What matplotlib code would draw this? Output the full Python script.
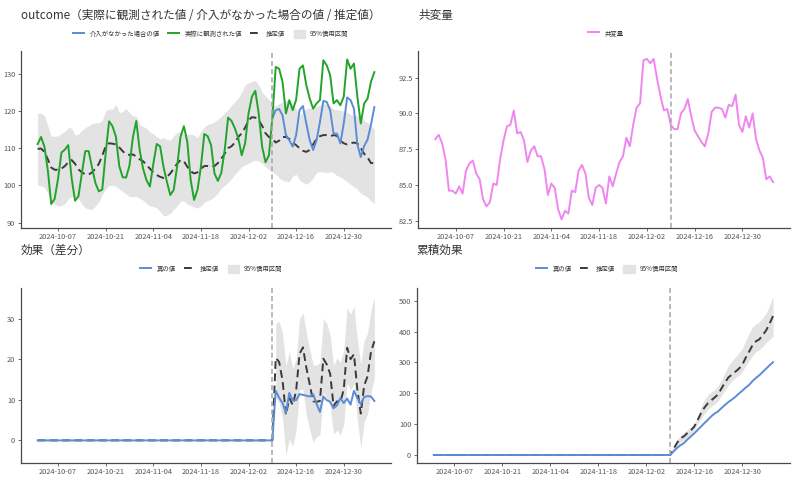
import numpy as np
import pandas as pd
import matplotlib
matplotlib.use('Agg')
import matplotlib.pyplot as plt
import matplotlib.dates as mdates
from matplotlib.lines import Line2D
from matplotlib.patches import Patch
from matplotlib.ticker import FormatStrFormatter

plt.rcParams['font.family'] = ['Noto Sans CJK JP', 'DejaVu Sans']

# data (100 days starting 2024-10-01)
dates = pd.date_range('2024-10-01', periods=100, freq='D')
intervention = pd.Timestamp('2024-12-09')
post_start = 69  # index of 2024-12-09

observed = [111.1, 113.0, 110.4, 104.0, 95.0, 96.4, 101.8, 108.8, 109.6, 110.8,
            101.9, 95.9, 97.1, 103.2, 109.2, 109.2, 104.8, 100.6, 98.4, 98.9,
            108.6, 117.2, 115.9, 113.1, 105.2, 102.2, 102.1, 105.3, 112.9, 117.3,
            109.5, 104.5, 101.4, 99.7, 105.7, 111.1, 110.5, 105.0, 101.0, 97.4,
            98.8, 105.0, 113.0, 115.9, 111.7, 101.4, 96.1, 98.8, 105.0, 113.8,
            113.2, 110.8, 103.2, 101.2, 103.4, 109.5, 118.2, 117.3, 115.3, 112.6,
            108.1, 111.3, 119.3, 123.8, 125.4, 119.3, 110.4, 106.2, 108.1, 118.0,
            131.8, 131.3, 127.8, 119.3, 122.9, 120.2, 123.0, 131.3, 132.2, 126.9,
            123.3, 120.6, 122.0, 122.9, 133.6, 132.2, 129.6, 122.0, 122.9, 121.5,
            123.8, 133.8, 131.3, 132.7, 123.8, 116.6, 122.0, 123.3, 127.8, 130.4]

predicted = [109.8, 109.9, 109.0, 107.0, 104.8, 104.2, 104.2, 104.5, 105.2, 106.2,
             106.8, 105.8, 104.3, 103.5, 103.0, 102.9, 103.5, 104.5, 105.8, 108.0,
             110.5, 111.3, 111.2, 111.0, 110.2, 109.2, 108.3, 108.2, 108.3, 107.8,
             107.0, 106.5, 105.5, 104.5, 103.5, 102.8, 102.3, 102.0, 102.3, 103.2,
             104.5, 105.8, 106.8, 106.5, 105.0, 103.8, 103.2, 103.5, 104.5, 105.2,
             105.2, 105.0, 105.2, 106.0, 107.2, 108.5, 110.0, 110.5, 111.5, 113.0,
             114.0, 115.5, 117.5, 118.3, 118.2, 117.5, 116.0, 114.0, 113.0, 112.5,
             111.5, 112.0, 113.0, 113.0, 112.5, 111.5, 110.8, 110.0, 109.3, 109.0,
             109.5, 111.0, 112.5, 113.2, 113.5, 113.5, 113.2, 113.5, 113.3, 112.0,
             111.3, 111.0, 111.3, 111.5, 111.3, 110.0, 108.5, 107.5, 106.0, 106.0]

pred_upper = [119.3, 119.4, 118.7, 116.0, 113.2, 113.2, 113.3, 114.0, 114.5, 115.5,
              115.3, 113.5, 113.8, 114.8, 115.5, 116.0, 116.6, 116.8, 116.8, 117.5,
              120.0, 120.5, 120.4, 121.7, 119.5, 119.8, 120.6, 119.5, 118.7, 118.5,
              116.3, 115.8, 115.4, 114.3, 113.9, 113.0, 112.5, 112.8, 112.4, 112.1,
              113.3, 114.2, 114.4, 113.8, 113.6, 113.8, 113.5, 112.8, 114.5, 115.6,
              116.4, 116.6, 117.0, 117.7, 118.5, 119.5, 120.3, 121.5, 122.5, 123.5,
              125.0, 127.0, 127.5, 127.9, 128.2, 127.0, 125.0, 124.0, 123.0, 121.8,
              121.3, 122.0, 122.3, 122.9, 122.5, 121.7, 120.5, 118.8, 119.7, 120.6,
              120.7, 121.0, 121.1, 121.5, 121.9, 121.8, 121.2, 120.5, 120.3, 120.1,
              119.9, 119.6, 119.0, 118.8, 118.8, 118.4, 117.4, 116.8, 116.1, 115.0]

pred_lower = [100.1, 99.9, 99.5, 97.8, 96.0, 95.0, 94.4, 94.6, 95.1, 96.4,
              97.0, 97.0, 96.5, 95.0, 94.0, 93.7, 93.5, 94.5, 95.5, 97.5,
              99.0, 100.0, 100.0, 99.8, 99.0, 98.3, 97.7, 97.0, 97.0, 97.0,
              96.5, 96.0, 95.2, 94.5, 94.3, 94.0, 93.0, 91.8, 92.0, 92.5,
              93.5, 94.5, 95.8, 95.8, 95.0, 94.6, 94.2, 93.9, 94.5, 95.5,
              95.9, 96.3, 97.0, 98.0, 99.2, 100.0, 100.8, 101.8, 103.0, 104.0,
              105.0, 105.5, 106.0, 106.4, 106.8, 106.5, 105.9, 105.0, 104.3, 103.6,
              103.0, 102.0, 101.4, 101.1, 101.0, 102.5, 103.0, 101.4, 100.8, 100.3,
              101.0, 102.0, 103.5, 103.7, 103.6, 103.4, 103.7, 103.5, 102.6, 102.3,
              101.7, 101.0, 100.3, 99.6, 99.0, 97.9, 97.4, 96.9, 95.8, 95.2]

# counterfactual, from 2024-12-09 to the end
counterfactual = [118.0, 120.2, 120.5, 118.8, 113.5, 112.1, 110.4, 113.5, 120.2, 121.3,
                  116.6, 112.1, 109.5, 112.1, 117.0, 122.7, 122.4, 120.2, 113.9, 113.9,
                  111.3, 116.6, 123.6, 122.9, 120.6, 111.0, 107.6, 110.6, 112.3, 116.3,
                  121.0]

covariate = [88.2, 88.5, 87.9, 86.8, 84.6, 84.6, 84.4, 84.9, 84.4, 86.0,
             86.5, 86.7, 85.8, 85.4, 84.0, 83.5, 83.8, 85.1, 85.0, 86.8,
             88.1, 89.1, 89.2, 90.2, 88.6, 88.7, 88.1, 86.6, 87.4, 87.7,
             87.0, 87.0, 86.1, 84.3, 85.1, 84.8, 83.3, 82.6, 83.2, 83.0,
             84.6, 84.5, 86.0, 86.4, 85.8, 84.1, 83.6, 84.8, 85.0, 84.8,
             83.7, 85.6, 84.9, 85.8, 86.6, 87.0, 88.3, 87.7, 89.2, 90.4,
             90.7, 93.7, 93.8, 93.5, 93.8, 92.4, 91.2, 90.2, 90.3, 89.2,
             88.9, 88.9, 90.0, 90.3, 91.0, 89.8, 88.8, 88.4, 88.0, 87.7,
             88.6, 90.1, 90.4, 90.4, 90.3, 89.7, 90.6, 90.5, 91.3, 89.2,
             88.7, 89.8, 89.0, 90.0, 88.2, 87.4, 86.9, 85.4, 85.6, 85.2]

# true effect after the intervention (2024-12-10 onward)
effect_true_post = [12.2, 10.5, 9.2, 6.7, 11.7, 9.8, 9.9, 11.4, 11.2, 11.0,
                    10.8, 11.4, 9.0, 7.0, 10.8, 9.9, 9.5, 7.9, 8.6, 10.4,
                    9.2, 10.3, 8.8, 12.2, 10.4, 8.9, 10.7, 10.9, 10.8, 9.7]

# cumulative effect credible interval, from 2024-12-09
cum_upper = [0, 28, 50, 62, 72, 82, 90, 100, 125, 155, 180, 195, 205, 212, 225, 245,
             268, 290, 305, 318, 330, 345, 370, 395, 415, 425, 432, 445, 460, 485, 515]
cum_lower = [0, 12, 28, 42, 48, 58, 65, 80, 100, 118, 135, 148, 158, 166, 175, 195,
             210, 228, 240, 250, 258, 270, 290, 305, 322, 335, 342, 352, 365, 375, 385]

observed = np.array(observed)
predicted = np.array(predicted)
pred_upper = np.array(pred_upper)
pred_lower = np.array(pred_lower)

n_pre = post_start + 1
effect_true = np.concatenate([np.zeros(n_pre), effect_true_post])
effect_est = np.concatenate([np.zeros(n_pre), observed[n_pre:] - predicted[n_pre:]])
eff_hi = observed[n_pre:] - pred_lower[n_pre:]
eff_lo = observed[n_pre:] - pred_upper[n_pre:]
cum_true = np.cumsum(effect_true)
cum_est = np.cumsum(effect_est)

# styles
GREEN = '#22a32a'
BLUE = '#5b8cd6'
PINK = '#ef86ef'
DASH = '#3a3a3a'
BAND = '#e3e3e3'
VLINE = '#a6a6a6'
TXT = '#333333'
TICK = '#555555'

fig = plt.figure(figsize=(8, 4.8), dpi=100)
pos = [[0.026, 0.526, 0.463, 0.368],
       [0.523, 0.526, 0.4645, 0.368],
       [0.026, 0.036, 0.463, 0.363],
       [0.521, 0.036, 0.4665, 0.363]]
axes = [fig.add_axes(p) for p in pos]

xlim = (dates[0] - pd.Timedelta(days=4.95), dates[-1] + pd.Timedelta(days=4.95))
ticks = pd.date_range('2024-10-07', periods=7, freq='14D')


def style(ax, title, ty):
    for s in ['top', 'right']:
        ax.spines[s].set_visible(False)
    for s in ['left', 'bottom']:
        ax.spines[s].set_color('#4a4a4a')
        ax.spines[s].set_linewidth(0.9)
    ax.set_xlim(xlim)
    ax.set_xticks(ticks)
    ax.xaxis.set_major_formatter(mdates.DateFormatter('%Y-%m-%d'))
    ax.tick_params(axis='both', labelsize=5.3, colors=TICK, length=2, width=0.6, pad=2)
    ax.text(0.0, ty, title, transform=ax.transAxes, fontsize=8.4, color=TXT,
            ha='left', va='center')
    ax.axvline(intervention, color=VLINE, lw=1.1, ls=(0, (3.3, 2)), zorder=5)


def legend(ax, handles, labels, x, y):
    ax.legend(handles, labels, loc='center', bbox_to_anchor=(x, y), ncol=len(labels),
              frameon=False, fontsize=4.6, labelcolor=TXT, handlelength=1.75,
              handleheight=1.56, handletextpad=0.8, columnspacing=1.3)


dash_style = (0, (4, 2.3))

# outcome
ax = axes[0]
ax.fill_between(dates, pred_lower, pred_upper, color=BAND, lw=0)
ax.plot(dates, predicted, color=DASH, lw=1.4, ls=dash_style)
ax.plot(dates[post_start:], counterfactual, color=BLUE, lw=1.4)
ax.plot(dates, observed, color=GREEN, lw=1.4)
ax.set_ylim(88.7, 136.1)
ax.set_yticks([90, 100, 110, 120, 130])
style(ax, 'outcome（実際に観測された値 / 介入がなかった場合の値 / 推定値）', 1.2)
legend(ax,
       [Line2D([], [], color=BLUE, lw=1.4), Line2D([], [], color=GREEN, lw=1.4),
        Line2D([], [], color=DASH, lw=1.4, ls=dash_style), Patch(color=BAND)],
       ['介入がなかった場合の値', '実際に観測された値', '推定値', '95%信用区間'],
       0.513, 1.094)

# covariate
ax = axes[1]
ax.plot(dates, covariate, color=PINK, lw=1.4)
ax.set_ylim(82.03, 94.36)
ax.set_yticks([82.5, 85, 87.5, 90, 92.5])
ax.yaxis.set_major_formatter(FormatStrFormatter('%.1f'))
style(ax, '共変量', 1.2)
legend(ax, [Line2D([], [], color=PINK, lw=1.4)], ['共変量'], 0.504, 1.10)

# effect
ax = axes[2]
ax.fill_between(dates[n_pre:], eff_lo, eff_hi, color=BAND, lw=0)
ax.plot(dates, effect_est, color=DASH, lw=1.4, ls=dash_style)
ax.plot(dates, effect_true, color=BLUE, lw=1.4)
ax.set_ylim(-5.5, 37.4)
ax.set_yticks([0, 10, 20, 30])
style(ax, '効果（差分）', 1.22)
legend(ax,
       [Line2D([], [], color=BLUE, lw=1.4), Line2D([], [], color=DASH, lw=1.4, ls=dash_style),
        Patch(color=BAND)],
       ['真の値', '推定値', '95%信用区間'], 0.514, 1.11)

# cumulative effect
ax = axes[3]
ax.fill_between(dates[post_start:], cum_lower, cum_upper, color=BAND, lw=0)
ax.plot(dates, cum_est, color=DASH, lw=1.4, ls=dash_style)
ax.plot(dates, cum_true, color=BLUE, lw=1.4)
ax.set_ylim(-25, 540)
ax.set_yticks([0, 100, 200, 300, 400, 500])
style(ax, '累積効果', 1.22)
legend(ax,
       [Line2D([], [], color=BLUE, lw=1.4), Line2D([], [], color=DASH, lw=1.4, ls=dash_style),
        Patch(color=BAND)],
       ['真の値', '推定値', '95%信用区間'], 0.51, 1.11)

fig.savefig('out.png', dpi=100, facecolor='white')
